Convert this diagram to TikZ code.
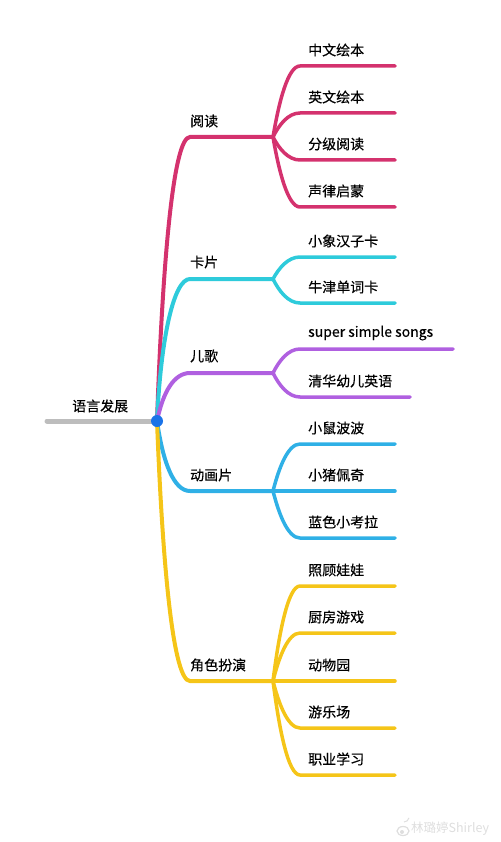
\documentclass[tikz,border=0pt]{standalone}
\usepackage{fontspec}
\setmainfont{Noto Sans CJK SC}[FakeBold=0.4]
\newfontfamily\wmfont{Noto Sans CJK SC}
\usetikzlibrary{calc}
\definecolor{cred}{HTML}{D4326E}
\definecolor{ccyan}{HTML}{2ECBDB}
\definecolor{cpurple}{HTML}{B060E0}
\definecolor{cblue}{HTML}{2FB0E6}
\definecolor{cyellow}{HTML}{F5C518}
\definecolor{cgray}{HTML}{BDBDBD}
\definecolor{cdot}{HTML}{1A73E8}
\tikzset{
  branch/.style={line width=4pt, line cap=round},
  leaf/.style={line width=3.5pt, line cap=round},
  lbl/.style={anchor=west, inner sep=0pt, font=\fontsize{14}{16}\selectfont},
  wm/.style={anchor=west, inner sep=0pt, text=black!13, font=\wmfont\fontsize{12.5}{14}\selectfont},
}
\begin{document}
\begin{tikzpicture}[x=1pt,y=-1pt]
\useasboundingbox (0,0) rectangle (500,842);
\coordinate (root) at (157,421);
\coordinate (rootL) at (47,421);
\draw[line width=5pt, line cap=round, cgray] (rootL) -- (root);
\node[lbl] (rootlbl) at (72,406) {语言发展};

% 阅读
\coordinate (b1s) at (190,137); \coordinate (b1j) at (273,137);
\draw[branch,cred] (root) .. controls +(6,-170) and +(-16,0) .. (b1s) -- (b1j);
\node[lbl] (b1) at (190,121) {阅读};
\foreach \i/\y/\t in {1/66/中文绘本, 2/113/英文绘本, 3/160/分级阅读, 4/207/声律启蒙} {
  \coordinate (b1c\i s) at (300,\y); \coordinate (b1c\i e) at (395,\y);
  \pgfmathsetmacro\dy{0.5*(\y-137)}
  \draw[leaf,cred] (b1j) .. controls +(6,\dy) and +(-12,0) .. (b1c\i s) -- (b1c\i e);
  \node[lbl] (b1c\i) at (308,\y-16) {\t};
}

% 卡片
\coordinate (b2s) at (190,279); \coordinate (b2j) at (273,279);
\draw[branch,ccyan] (root) .. controls +(4,-85) and +(-16,0) .. (b2s) -- (b2j);
\node[lbl] (b2) at (190,262) {卡片};
\foreach \i/\y/\t in {1/257/小象汉子卡, 2/303/牛津单词卡} {
  \coordinate (b2c\i s) at (300,\y); \coordinate (b2c\i e) at (395,\y);
  \pgfmathsetmacro\dy{0.5*(\y-279)}
  \draw[leaf,ccyan] (b2j) .. controls +(6,\dy) and +(-12,0) .. (b2c\i s) -- (b2c\i e);
  \node[lbl] (b2c\i) at (308,\y-16) {\t};
}

% 儿歌
\coordinate (b3s) at (190,373); \coordinate (b3j) at (273,373);
\draw[branch,cpurple] (root) .. controls +(6,-29) and +(-16,0) .. (b3s) -- (b3j);
\node[lbl] (b3) at (190,356) {儿歌};
\foreach \i/\y/\ex/\t in {1/349/453/super simple songs, 2/397/410/清华幼儿英语} {
  \coordinate (b3c\i s) at (300,\y); \coordinate (b3c\i e) at (\ex,\y);
  \pgfmathsetmacro\dy{0.5*(\y-373)}
  \draw[leaf,cpurple] (b3j) .. controls +(6,\dy) and +(-12,0) .. (b3c\i s) -- (b3c\i e);
  \node[lbl] (b3c\i) at (308,\y-16) {\t};
}

% 动画片
\coordinate (b4s) at (190,491); \coordinate (b4j) at (273,491);
\draw[branch,cblue] (root) .. controls +(6,42) and +(-16,0) .. (b4s) -- (b4j);
\node[lbl] (b4) at (190,475) {动画片};
\foreach \i/\y/\t in {1/444/小鼠波波, 2/491/小猪佩奇, 3/538/蓝色小考拉} {
  \coordinate (b4c\i s) at (300,\y); \coordinate (b4c\i e) at (395,\y);
  \pgfmathsetmacro\dy{0.5*(\y-491)}
  \draw[leaf,cblue] (b4j) .. controls +(6,\dy) and +(-12,0) .. (b4c\i s) -- (b4c\i e);
  \node[lbl] (b4c\i) at (308,\y-16) {\t};
}

% 角色扮演
\coordinate (b5s) at (190,681); \coordinate (b5j) at (273,681);
\draw[branch,cyellow] (root) .. controls +(6,156) and +(-16,0) .. (b5s) -- (b5j);
\node[lbl] (b5) at (190,665) {角色扮演};
\foreach \i/\y/\t in {1/586/照顾娃娃, 2/633/厨房游戏, 3/681/动物园, 4/728/游乐场, 5/775/职业学习} {
  \coordinate (b5c\i s) at (300,\y); \coordinate (b5c\i e) at (395,\y);
  \pgfmathsetmacro\dy{0.5*(\y-681)}
  \draw[leaf,cyellow] (b5j) .. controls +(6,\dy) and +(-12,0) .. (b5c\i s) -- (b5c\i e);
  \node[lbl] (b5c\i) at (308,\y-16) {\t};
}

\node[circle, fill=cdot, minimum size=12pt, inner sep=0pt] (dot) at (root) {};
% watermark
\node[wm] (wmark) at (411,829) {林璐婷Shirley};
\draw[black!13, line width=1.2pt] (403,831) ellipse (6 and 4.5);
\fill[black!13] (402,832) circle (2);
\draw[black!13, line width=1pt] (404,822) arc (90:10:5);
\end{tikzpicture}
\end{document}
